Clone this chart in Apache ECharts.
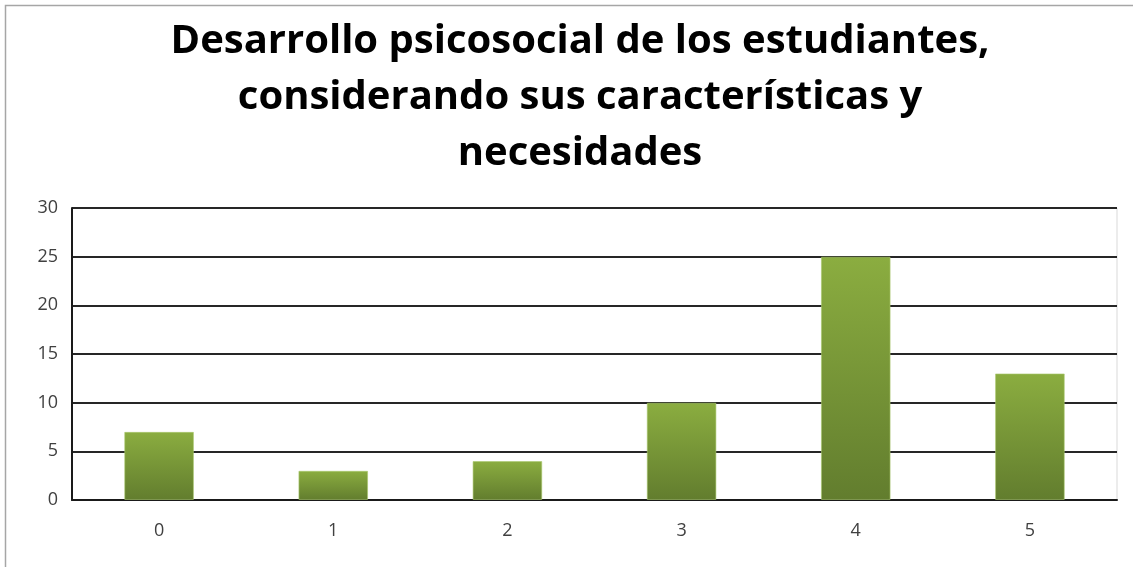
<!DOCTYPE html>
<html>
<head>
<meta charset="utf-8">
<script src="https://cdn.jsdelivr.net/npm/echarts@6/dist/echarts.min.js"></script>
<style>html,body{margin:0;padding:0;background:#fff}#c{width:1133px;height:567px}</style>
</head>
<body>
<div id="c"></div>
<script>
const titleText = 'Desarrollo psicosocial de los estudiantes,\nconsiderando sus características y\nnecesidades';
const categories = ['0', '1', '2', '3', '4', '5'];
const values = [7, 3, 4, 10, 25, 13];
const yTicks = [0, 5, 10, 15, 20, 25, 30];

const chart = echarts.init(document.getElementById('c'));
chart.setOption({
  animation: false,
  backgroundColor: '#fff',
  title: {
    text: titleText,
    left: 575,
    textAlign: 'center',
    top: 9,
    textStyle: {
      fontFamily: 'Open Sans',
      fontWeight: 'bold',
      fontSize: 40,
      lineHeight: 56,
      color: '#000'
    }
  },
  graphic: [{
    type: 'rect',
    shape: { x: 5.5, y: 5.5, width: 1200, height: 700 },
    style: { fill: 'none', stroke: '#a6a6a6', lineWidth: 1.5 },
    silent: true, z: -1
  }],
  grid: { left: 72, right: 16, top: 208, bottom: 67, show: true, borderColor: '#d9d9d9', borderWidth: 1 },
  xAxis: {
    type: 'category',
    data: categories,
    axisLine: { lineStyle: { color: '#1a1a1a', width: 2 } },
    axisTick: { show: false },
    axisLabel: { fontFamily: 'Open Sans', fontSize: 18, color: '#404040', margin: 22 }
  },
  yAxis: {
    type: 'value',
    min: yTicks[0],
    max: yTicks[yTicks.length - 1],
    interval: 5,
    axisLine: { show: true, lineStyle: { color: '#1a1a1a', width: 2 } },
    axisTick: { show: false },
    axisLabel: { fontFamily: 'Open Sans', fontSize: 18, color: '#404040', margin: 14 },
    splitLine: { lineStyle: { color: '#262626', width: 2 } }
  },
  series: [{
    type: 'bar',
    data: values,
    barWidth: '40%',
    itemStyle: {
      color: new echarts.graphic.LinearGradient(0, 0, 0, 1, [
        { offset: 0, color: '#8bad40' },
        { offset: 1, color: '#627d2e' }
      ]),
      borderColor: 'rgba(170,200,110,0.6)',
      borderWidth: 1
    }
  }]
});
</script>
</body>
</html>
